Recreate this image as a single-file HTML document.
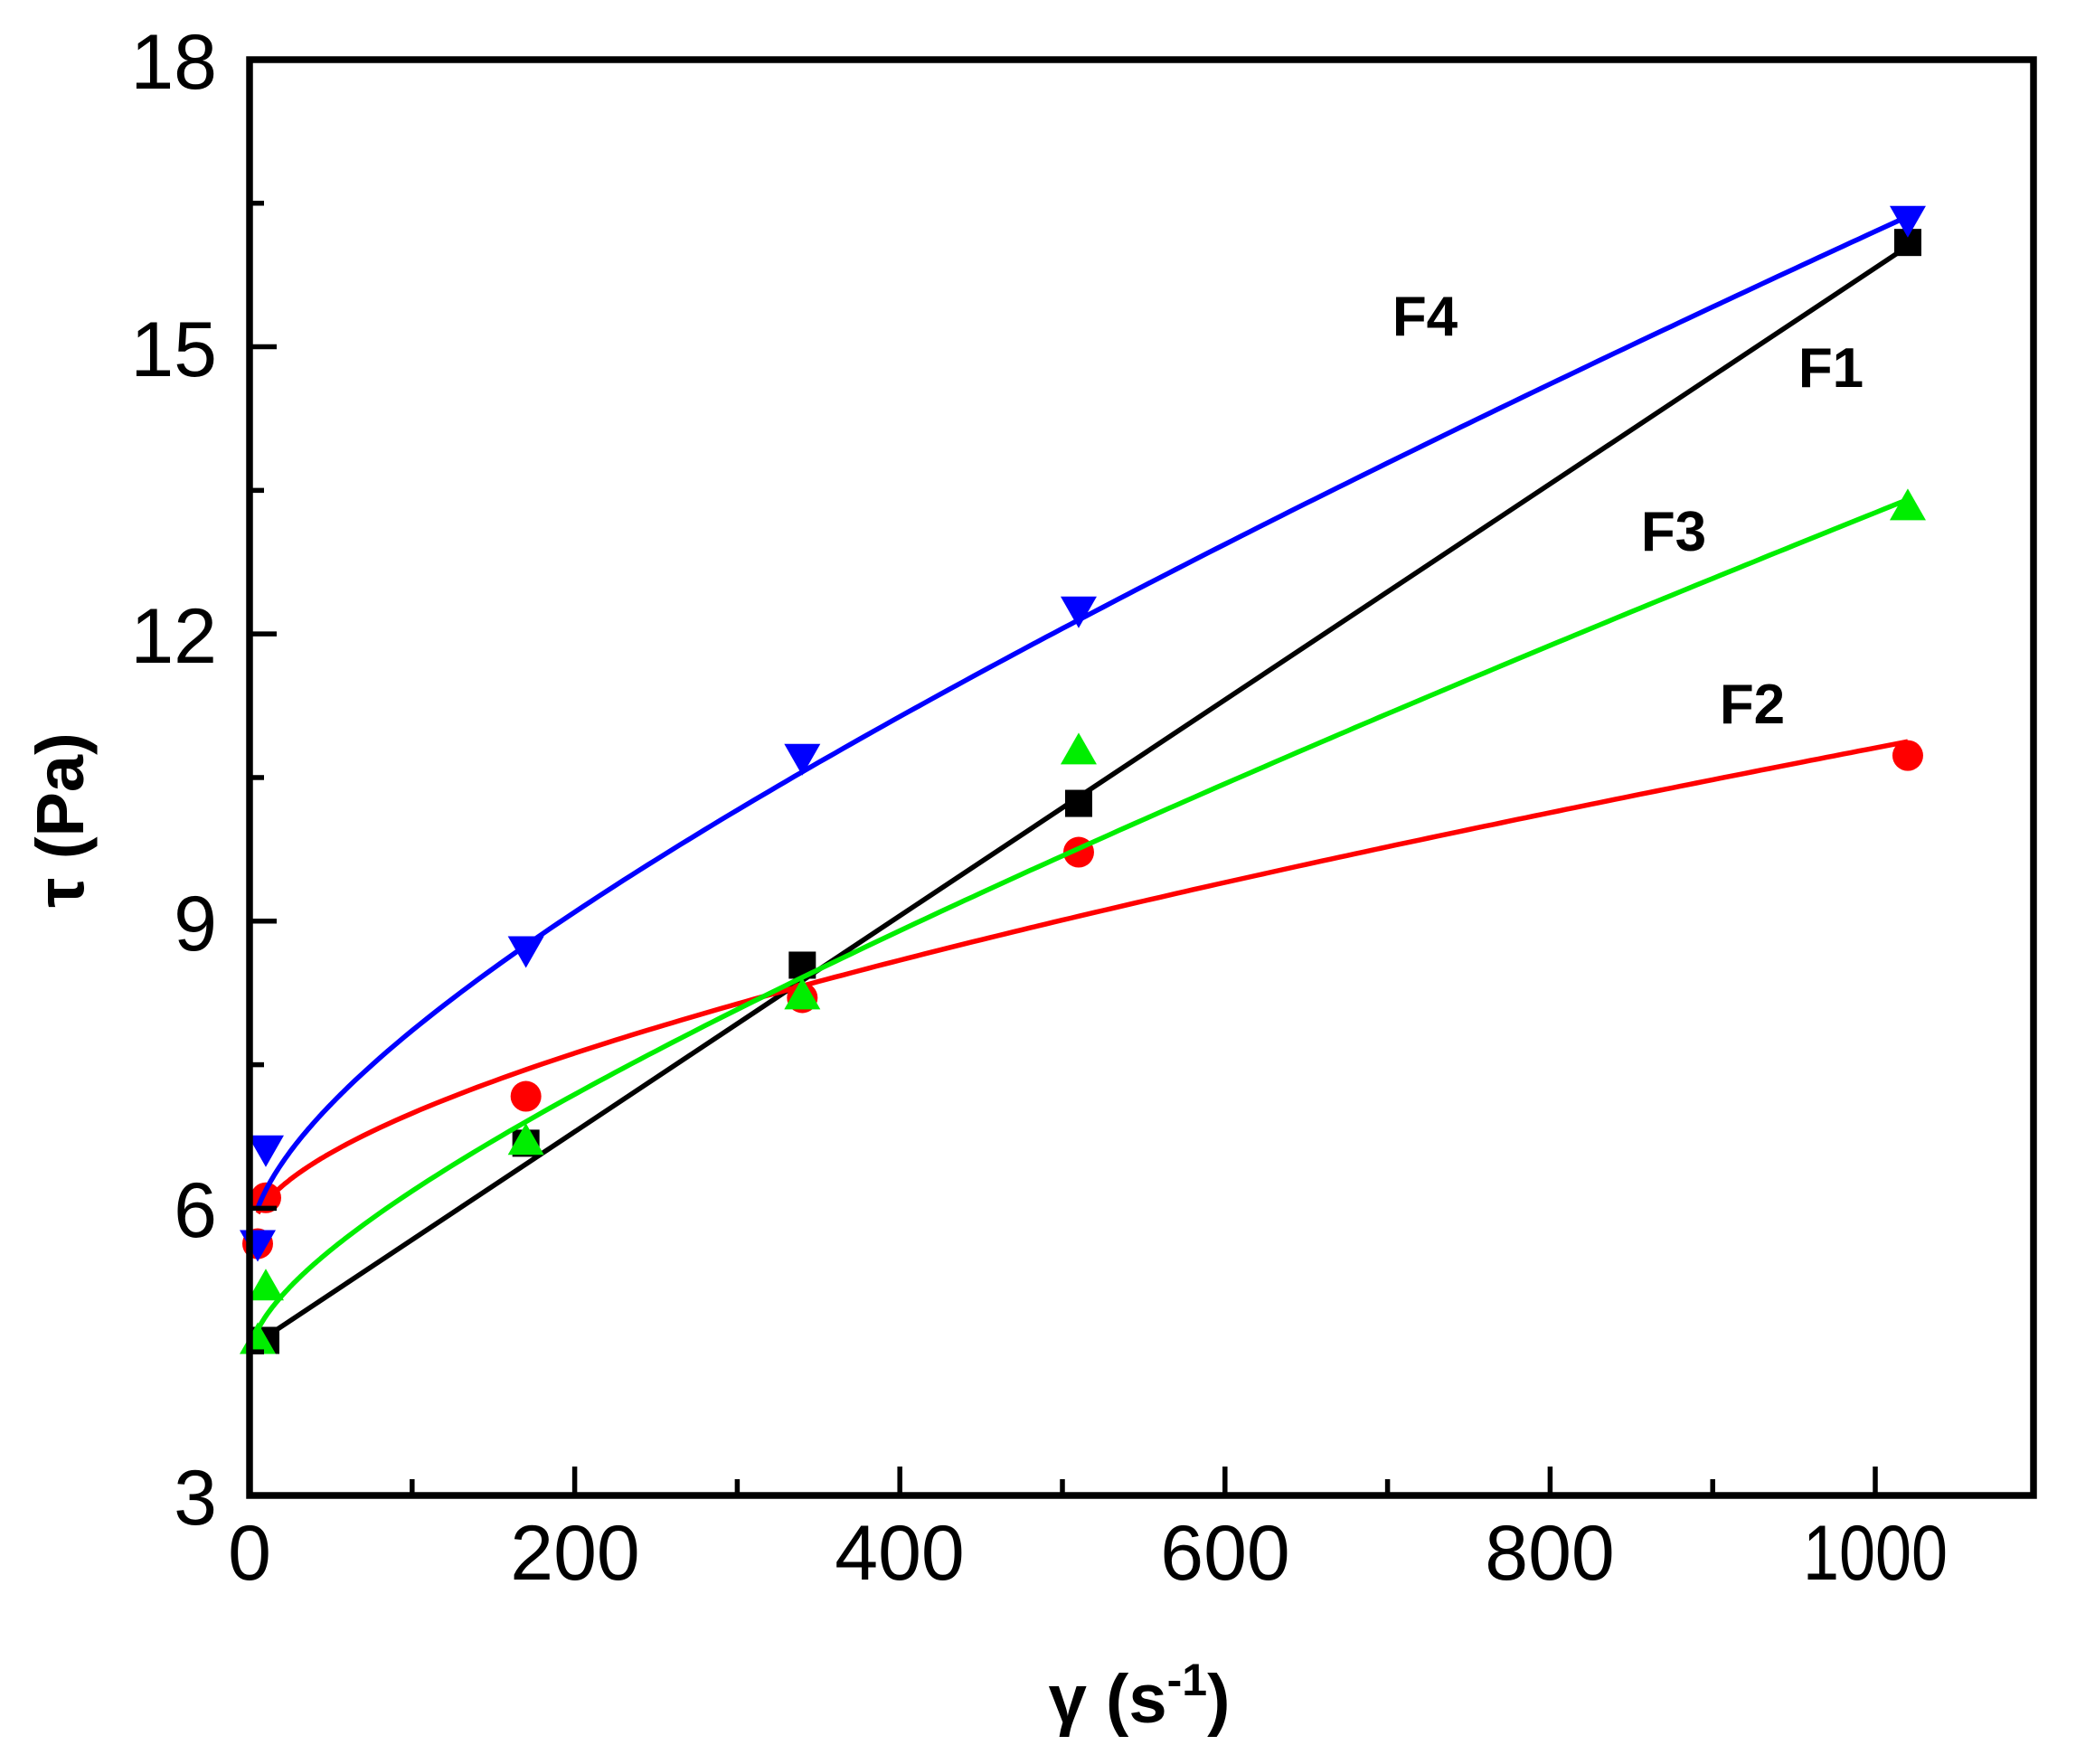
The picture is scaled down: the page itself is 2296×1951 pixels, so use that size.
<!DOCTYPE html>
<html><head><meta charset="utf-8"><style>
html,body{margin:0;padding:0;background:#fff;}
svg{display:block;}
text{font-family:"Liberation Sans",Arial,sans-serif;}
</style></head><body>
<svg id="s" width="2296" height="1951" viewBox="0 0 2296 1951" xmlns="http://www.w3.org/2000/svg">
<rect width="2296" height="1951" fill="#fff"/>
<g id="plot"></g>
<rect x="276" y="66" width="1973" height="1588" fill="none" stroke="#000" stroke-width="7.5"/>
<g id="ticks" stroke="#000" stroke-width="5.5"></g>
<g font-size="86" text-anchor="end">
<text x="240" y="1686">3</text>
<text x="240" y="1368">6</text>
<text x="240" y="1051">9</text>
<text x="240" y="733">12</text>
<text x="240" y="416">15</text>
<text x="240" y="98">18</text>
</g>
<g font-size="86" text-anchor="middle">
<text x="276" y="1747">0</text>
<text x="636" y="1747">200</text>
<text x="995" y="1747">400</text>
<text x="1355" y="1747">600</text>
<text x="1714" y="1747">800</text>
<text x="2074" y="1747" textLength="160" lengthAdjust="spacingAndGlyphs">1000</text>
</g>
<text x="1260" y="1905" font-size="76" font-weight="bold" text-anchor="middle">γ (s<tspan dy="-30" font-size="50">-1</tspan><tspan dy="30">)</tspan></text>
<text transform="translate(92,907) rotate(-90)" font-size="74" font-weight="bold" text-anchor="middle">τ (Pa)</text>
<g font-size="62" font-weight="bold" text-anchor="middle">
<text x="1576" y="371">F4</text>
<text x="2025" y="428">F1</text>
<text x="1851" y="609">F3</text>
<text x="1938" y="800">F2</text>
</g>
</svg>
<script>
var X=function(v){return 276+v*1.798;},Y=function(t){return 1654-(t-3)*105.87;};
var NS="http://www.w3.org/2000/svg";
function el(p,n,a){var e=document.createElementNS(NS,n);for(var k in a)e.setAttribute(k,a[k]);p.appendChild(e);return e;}
var tk=document.getElementById('ticks');
for(var v=100;v<=1000;v+=100){var L=(v%200==0)?32:18;el(tk,'line',{x1:X(v),y1:1654,x2:X(v),y2:1654-L});}
for(var t=4.5;t<18;t+=1.5){var L=(Math.abs((t/3)-Math.round(t/3))<1e-6)?30:16;el(tk,'line',{x1:276,y1:Y(t),x2:276+L,y2:Y(t)});}
function fpath(a,b,c){var d="";for(var x=5;x<=1020;x+=(x<60?1:5)){d+=(d?" L":"M")+X(x).toFixed(1)+","+Y(a+b*x+c*Math.sqrt(x)).toFixed(1);}return d;}
var g=document.getElementById('plot');
el(g,'path',{d:"M"+X(5)+","+Y(4.6)+" L"+X(1020)+","+Y(16.05),stroke:'#000','stroke-width':5.5,fill:'none'});
[[10,4.62],[170,6.68],[340,8.54],[510,10.23],[1020,16.09]].forEach(function(p){el(g,'rect',{x:X(p[0])-15,y:Y(p[1])-15,width:30,height:30,fill:'#000'});});
var series=[
{c:'#ff0000',f:[5.68,0.00143,0.117],pts:[[5,5.63],[10,6.11],[170,7.17],[340,8.2],[510,9.72],[1020,10.73]],m:'c'},
{c:'#00ee00',f:[4.42,0.0048,0.128],pts:[[5,4.62],[10,5.18],[170,6.7],[340,8.22],[510,10.78],[1020,13.33]],m:'u'},
{c:'#0000ff',f:[5.577,0.005,0.178],pts:[[5,5.63],[10,6.62],[170,8.7],[340,10.71],[510,12.25],[1020,16.33]],m:'d'}
];
series.forEach(function(s){
 el(g,'path',{d:fpath(s.f[0],s.f[1],s.f[2]),stroke:s.c,'stroke-width':5.5,fill:'none','stroke-linejoin':'round'});
 s.pts.forEach(function(p){var x=X(p[0]),y=Y(p[1]);
  if(s.m=='c')el(g,'circle',{cx:x,cy:y,r:17,fill:s.c});
  else if(s.m=='u')el(g,'polygon',{points:(x)+","+(y-20)+" "+(x-20)+","+(y+15)+" "+(x+20)+","+(y+15),fill:s.c});
  else el(g,'polygon',{points:(x)+","+(y+20)+" "+(x-20)+","+(y-15)+" "+(x+20)+","+(y-15),fill:s.c});
 });
});
</script>
</body></html>
